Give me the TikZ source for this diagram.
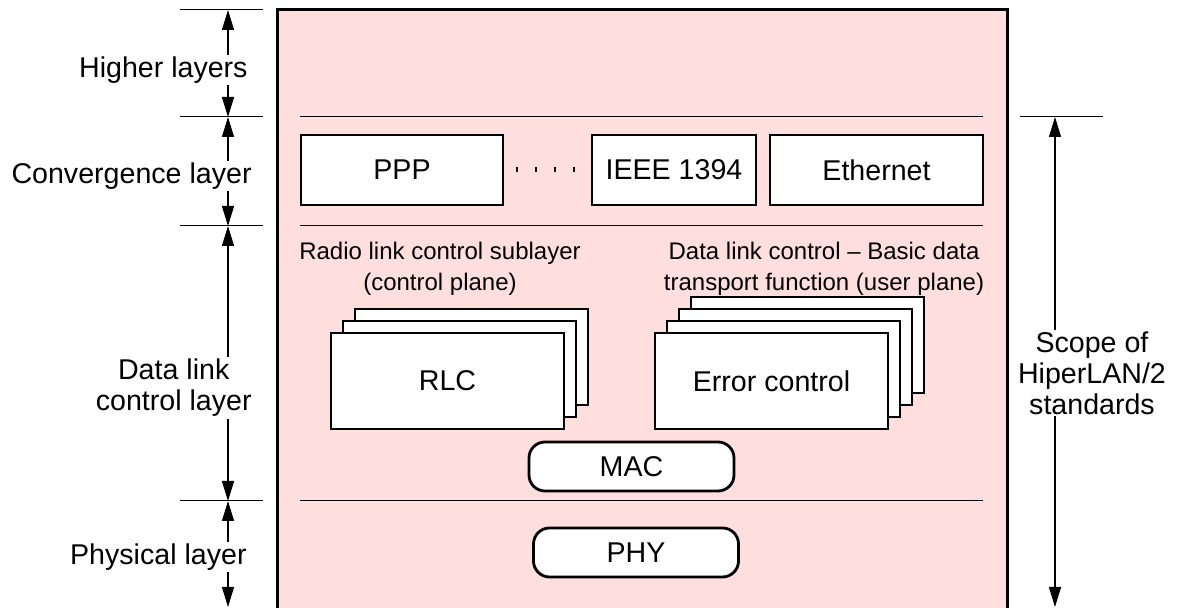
\documentclass[tikz,border=0pt]{standalone}
\usepackage{fontspec}
\setmainfont{Liberation Sans}
\usetikzlibrary{arrows.meta}
\definecolor{layerpink}{RGB}{255,222,222}
\tikzset{
  thinline/.style={line width=0.5pt},
  dimline/.style={line width=0.6pt, {Triangle[length=10pt,width=6pt]}-{Triangle[length=10pt,width=6pt]}},
  sidelabel/.style={fill=white, inner sep=1pt, align=center},
  subtitle/.style={align=center, font=\fontsize{12pt}{15.5pt}\selectfont},
  convbox/.style={draw, line width=1.4pt, fill=white, minimum height=35pt, inner sep=0pt},
  stackbox/.style={draw, line width=1.4pt, fill=white, minimum width=116.5pt, minimum height=48pt},
  roundbox/.style={draw, line width=1.4pt, fill=white, rounded corners=8pt, minimum width=102.5pt, minimum height=24.5pt},
  dotgap/.style={line width=2.5pt, dash pattern=on 1pt off 8.5pt}
}
\begin{document}
\begin{tikzpicture}[x=0.5pt,y=-0.5pt,font=\fontsize{14.3pt}{15.5pt}\selectfont]
\useasboundingbox (0,0) rectangle (1180,608);
\fill[white] (0,0) rectangle (1180,608);

% the pink frame of the standard
\draw[line width=1.5pt, fill=layerpink] (277,10) rectangle (1007,650);
\foreach \y in {117,226,501} \draw[thinline] (300,\y) -- (983,\y); % layer borders

% ticks on both sides
\foreach \y in {10,117,226,501} \draw[thinline] (180,\y) -- (263,\y);
\draw[thinline] (1020,117) -- (1103,117);

\coordinate (h0) at (228,10);
\coordinate (h1) at (228,117);
\coordinate (h2) at (228,226);
\coordinate (h3) at (228,501);
\coordinate (h4) at (228,607);
\coordinate (s0) at (1055,117);
\coordinate (s1) at (1055,607);

\draw[dimline] (h0) -- (h1);
\draw[dimline] (h1) -- (h2);
\draw[dimline] (h2) -- (h3);
\draw[dimline] (h3) -- (h4);
\draw[dimline] (s0) -- (s1); % scope

\node[sidelabel, anchor=east] (higher) at (250,70) {Higher layers};
\node[sidelabel, anchor=east] (conv) at (254,176) {Convergence layer};
\node[sidelabel, anchor=east] (dlclbl) at (254,388) {Data link\\control layer};
\node[sidelabel, anchor=east] (phylbl) at (249,557) {Physical layer};
\node[sidelabel] (scope) at (1092,373) {Scope of\\HiperLAN/2\\standards};

% convergence layer
\node[convbox, minimum width=101pt] (ppp) at (402,170) {PPP};
\node[convbox, minimum width=82pt] (ieee) at (674,170) {IEEE 1394};
\node[convbox, minimum width=106.5pt] (eth) at (876.5,170) {Ethernet};
\draw[dotgap] ([xshift=6pt]ppp.east) -- ([xshift=-8pt]ieee.west);

% data link control layer
\node[subtitle] (rlctitle) at (440,269) {Radio link control sublayer\\(control plane)};
\node[subtitle] (dlctitle) at (824,269) {Data link control – Basic data\\transport function (user plane)};

\foreach \k in {2,1} \node[stackbox] at (447.5+12*\k,381-12*\k) {};
\node[stackbox] (rlc) at (447.5,381) {RLC};
\foreach \k in {3,2,1} \node[stackbox] at (771.5+12*\k,381-12*\k) {};
\node[stackbox] (errctl) at (771.5,381) {Error control};

\node[roundbox] (mac) at (631.5,466.5) {MAC};
\node[roundbox] (phy) at (636,552.5) {PHY};
\end{tikzpicture}
\end{document}
